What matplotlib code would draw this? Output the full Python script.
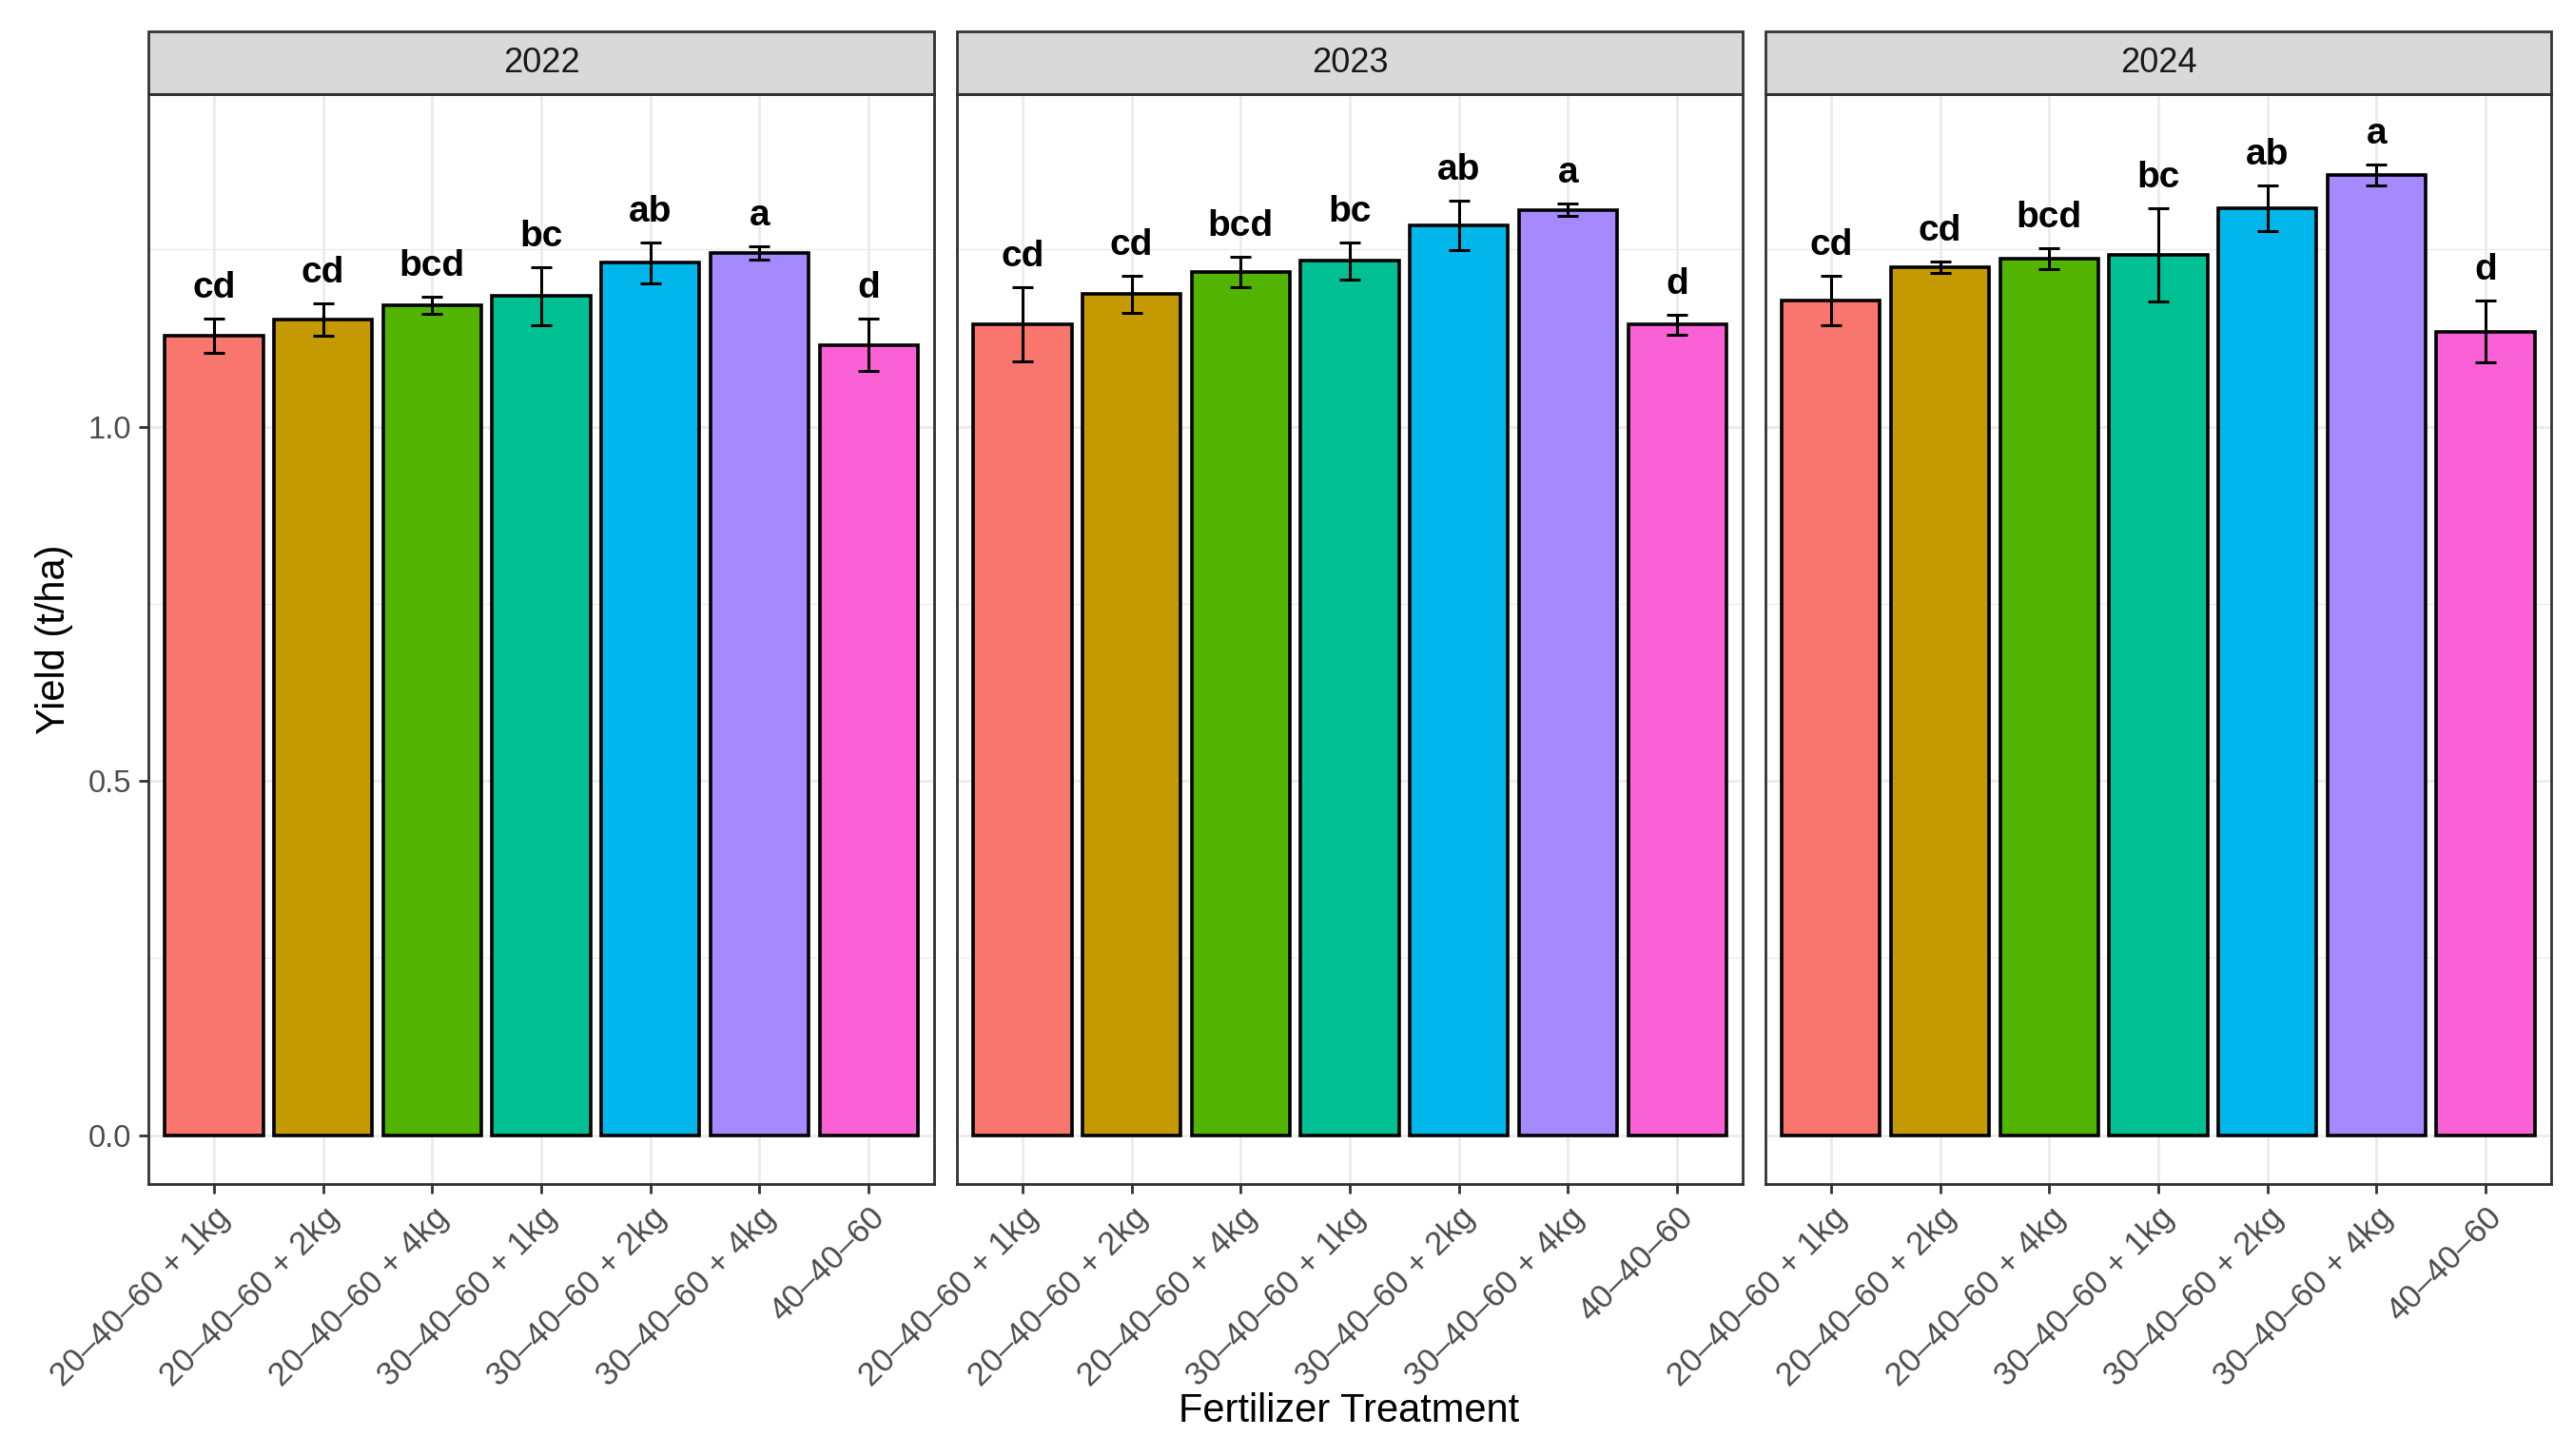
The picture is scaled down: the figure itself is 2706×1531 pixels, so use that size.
import matplotlib
matplotlib.use("Agg")
import matplotlib.pyplot as plt
from matplotlib.patches import Rectangle
import numpy as np

plt.rcParams['font.family'] = ['Liberation Sans', 'DejaVu Sans']

# Data
treatments = ["20\u201340\u201360 + 1kg", "20\u201340\u201360 + 2kg", "20\u201340\u201360 + 4kg",
              "30\u201340\u201360 + 1kg", "30\u201340\u201360 + 2kg", "30\u201340\u201360 + 4kg",
              "40\u201340\u201360"]
years = ["2022", "2023", "2024"]

yield_2022 = [1.128, 1.151, 1.171, 1.184, 1.231, 1.245, 1.115]
se_2022 = [0.024, 0.023, 0.012, 0.041, 0.029, 0.009, 0.037]
yield_2023 = [1.144, 1.187, 1.218, 1.234, 1.284, 1.306, 1.144]
se_2023 = [0.052, 0.026, 0.021, 0.026, 0.035, 0.009, 0.014]
yield_2024 = [1.178, 1.225, 1.237, 1.242, 1.308, 1.355, 1.134]
se_2024 = [0.035, 0.008, 0.015, 0.066, 0.032, 0.015, 0.044]
letters = ["cd", "cd", "bcd", "bc", "ab", "a", "d"]

means = [yield_2022, yield_2023, yield_2024]
errors = [se_2022, se_2023, se_2024]

# ggplot default hue palette for 7 levels
colors = ["#F8766D", "#C49A00", "#53B400", "#00C094", "#00B6EB", "#A58AFF", "#FB61D7"]

fig = plt.figure(figsize=(13.53, 7.655), dpi=200)

lefts = [0.0577, 0.3718, 0.6859]
bottom, width, height = 0.1868, 0.3052, 0.7485
strip_h = 0.0576

x = np.arange(1, len(treatments) + 1)

for i, year in enumerate(years):
    ax = fig.add_axes([lefts[i], bottom, width, height])
    ax.bar(x, means[i], width=0.9, color=colors, edgecolor="black", linewidth=1.3, zorder=2)
    ax.errorbar(x, means[i], yerr=errors[i], fmt="none", ecolor="black",
                elinewidth=1.1, capsize=4, capthick=1.1, zorder=3)
    for xi, m, s, lab in zip(x, means[i], errors[i], letters):
        ax.annotate(lab, (xi, m + s), xytext=(0, 8), textcoords="offset points",
                    ha="center", va="baseline", fontsize=14, fontweight="bold")

    ax.set_xlim(0.4, 7.6)
    ax.set_ylim(-0.069, 1.469)
    ax.set_yticks([0.0, 0.5, 1.0])
    ax.set_yticklabels(["0.0", "0.5", "1.0"])
    ax.set_yticks([0.25, 0.75, 1.25], minor=True)
    ax.set_xticks(x)
    ax.set_xticklabels(treatments, rotation=45, ha="right", va="top", rotation_mode="anchor")

    ax.set_axisbelow(True)
    ax.grid(which="major", color="#EBEBEB", linewidth=1.0)
    ax.grid(which="minor", axis="y", color="#EBEBEB", linewidth=0.5)

    for sp in ax.spines.values():
        sp.set_color("#333333")
        sp.set_linewidth(1.0)

    ax.tick_params(which="major", direction="out", length=3.6, width=1.0, color="#333333",
                   labelcolor="#4D4D4D", labelsize=11.8, pad=3)
    ax.tick_params(axis="x", labelsize=12.5)
    ax.tick_params(which="minor", length=0)
    if i > 0:
        ax.tick_params(axis="y", left=False, labelleft=False)

    # facet strip
    ax.add_patch(Rectangle((0, 1), 1, strip_h, transform=ax.transAxes, facecolor="#D9D9D9",
                           edgecolor="#333333", linewidth=1.0, clip_on=False))
    ax.text(0.5, 1 + strip_h / 2, year, transform=ax.transAxes, ha="center", va="center",
            fontsize=13, color="#1A1A1A")

fig.text(0.021, 0.561, "Yield (t/ha)", rotation=90, ha="center", va="center", fontsize=15)
fig.text(0.524, 0.031, "Fertilizer Treatment", ha="center", va="center", fontsize=15)

fig.savefig("out.png", dpi=200)
